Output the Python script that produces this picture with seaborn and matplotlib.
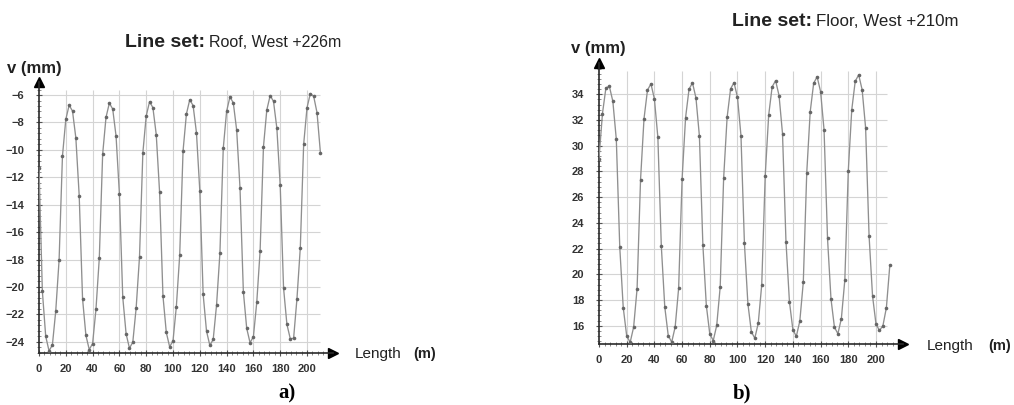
import numpy as np
import pandas as pd
import matplotlib
matplotlib.use("Agg")
import matplotlib.pyplot as plt
import seaborn as sns
from matplotlib.ticker import MultipleLocator

# ---------------- data ----------------
length_m = np.arange(0, 212.5, 2.5)

roof_v = [
    -11.3, -20.3, -23.6, -24.67, -24.23, -21.75, -18.02, -10.46, -7.78, -6.74, -7.17, -9.13,
    -13.34, -20.86, -23.53, -24.57, -24.13, -21.64, -17.90, -10.32, -7.63, -6.59, -7.02, -8.99,
    -13.21, -20.75, -23.42, -24.47, -24.03, -21.54, -17.80, -10.22, -7.53, -6.49, -6.92, -8.89,
    -13.11, -20.65, -23.32, -24.37, -23.93, -21.43, -17.68, -10.08, -7.39, -6.34, -6.77, -8.75,
    -12.98, -20.54, -23.22, -24.27, -23.83, -21.32, -17.55, -9.90, -7.19, -6.14, -6.57, -8.55,
    -12.78, -20.34, -23.02, -24.07, -23.63, -21.13, -17.38, -9.78, -7.09, -6.04, -6.46, -8.42,
    -12.60, -20.08, -22.73, -23.77, -23.75, -20.86, -17.14, -9.60, -6.93, -5.89, -6.10, -7.30,
    -10.20,
]

floor_v = [
    29.0, 32.5, 34.5, 34.61, 33.45, 30.49, 22.09, 17.41, 15.21, 14.71, 15.89, 18.89,
    27.37, 32.10, 34.32, 34.81, 33.64, 30.65, 22.18, 17.45, 15.23, 14.73, 15.91, 18.92,
    27.42, 32.17, 34.39, 34.89, 33.72, 30.74, 22.28, 17.57, 15.35, 14.85, 16.03, 19.02,
    27.48, 32.20, 34.42, 34.91, 33.75, 30.79, 22.40, 17.72, 15.53, 15.03, 16.21, 19.19,
    27.64, 32.36, 34.57, 35.06, 33.90, 30.94, 22.55, 17.87, 15.68, 15.18, 16.37, 19.37,
    27.89, 32.64, 34.86, 35.36, 34.20, 31.22, 22.79, 18.09, 15.88, 15.38, 16.56, 19.56,
    28.06, 32.79, 35.01, 35.51, 34.35, 31.39, 23.00, 18.32, 16.13, 15.63, 16.00, 17.40,
    20.73,
]

x_ticks = [0, 20, 40, 60, 80, 100, 120, 140, 160, 180, 200]
roof_yticks = [-24, -22, -20, -18, -16, -14, -12, -10, -8, -6]
floor_yticks = [16, 18, 20, 22, 24, 26, 28, 30, 32, 34]

roof_title = ("Line set:", "Roof, West +226m")
floor_title = ("Line set:", "Floor, West +210m")

# ---------------- style ----------------
sns.set_theme(style="white")
plt.rcParams["font.family"] = ["Liberation Sans", "DejaVu Sans"]

W, H = 1014, 405
fig = plt.figure(figsize=(W / 100, H / 100), dpi=100)

AX_COL = "#2a2a2a"
GRID_COL = "#d4d4d4"
LINE_COL = "#8f8f8f"
MARK_COL = "#666666"
TXT_COL = "#333333"


def px_box(x0, y_top, x1, y_bot):
    return [x0 / W, 1 - y_bot / H, (x1 - x0) / W, (y_bot - y_top) / H]


def draw_panel(ax, values, yticks, xlim, ylim, grid_xmax, grid_ytop):
    df = pd.DataFrame({"x": length_m, "v": values})
    ax.set_xlim(*xlim)
    ax.set_ylim(*ylim)
    ax.hlines(yticks, 0, grid_xmax, colors=GRID_COL, linewidth=0.8, zorder=0)
    ax.vlines(x_ticks[1:], ylim[0], grid_ytop, colors=GRID_COL, linewidth=0.8, zorder=0)
    sns.lineplot(data=df, x="x", y="v", ax=ax, color=LINE_COL, linewidth=0.95,
                 marker="o", markersize=2.6, markeredgewidth=0,
                 markerfacecolor=MARK_COL, zorder=3)
    ax.set_xlabel("")
    ax.set_ylabel("")
    ax.set_xticks(x_ticks)
    ax.set_yticks(yticks)
    ax.xaxis.set_minor_locator(MultipleLocator(4))
    ax.yaxis.set_minor_locator(MultipleLocator(0.4))
    for s in ["top", "right"]:
        ax.spines[s].set_visible(False)
    for s in ["left", "bottom"]:
        ax.spines[s].set_color(AX_COL)
        ax.spines[s].set_linewidth(1.2)
    ax.tick_params(axis="both", which="major", direction="inout", length=5,
                   width=0.8, color="#555555", labelsize=8, labelcolor=TXT_COL,
                   left=True, bottom=True)
    ax.tick_params(axis="both", which="minor", direction="inout", length=3,
                   width=0.6, color="#777777", left=True, bottom=True)
    ax.tick_params(axis="y", which="major", pad=8)
    ax.tick_params(axis="x", which="major", pad=5.5)
    for lab in ax.get_xticklabels() + ax.get_yticklabels():
        lab.set_fontweight("bold")
    ax.patch.set_alpha(0)
    ax.plot(1, 0, ">", color="black", markersize=7, transform=ax.transAxes, clip_on=False)
    ax.plot(0, 1, "^", color="black", markersize=7, transform=ax.transAxes, clip_on=False)


# Panel a
axA = fig.add_axes(px_box(39, 82, 333, 353))
draw_panel(axA, roof_v, roof_yticks, (0, 219.4), (-24.82, -5.05), 210, -5.6)

# Panel b
axB = fig.add_axes(px_box(599, 63, 903, 344))
draw_panel(axB, floor_v, floor_yticks, (0, 219.5), (14.58, 36.43), 208, 35.8)


def ftext(x, y, s, **kw):
    fig.text(x / W, 1 - y / H, s, **kw)


# Titles
ftext(205, 47, roof_title[0], ha="right", va="baseline", fontsize=14, fontweight="bold", color="#222222")
ftext(209, 47, roof_title[1], ha="left", va="baseline", fontsize=11.5, color="#222222")
ftext(812, 26, floor_title[0], ha="right", va="baseline", fontsize=14, fontweight="bold", color="#222222")
ftext(816, 26, floor_title[1], ha="left", va="baseline", fontsize=12.2, color="#222222")

# y axis labels
ftext(34, 68, "v (mm)", ha="center", va="center", fontsize=12, fontweight="bold", color="#222222")
ftext(598, 48, "v (mm)", ha="center", va="center", fontsize=12, fontweight="bold", color="#222222")

# x axis labels
ftext(355, 354, "Length", ha="left", va="center", fontsize=11, color="#222222")
ftext(413, 354, "(m)", ha="left", va="center", fontsize=10.5, fontweight="bold", color="#222222")
ftext(927, 346, "Length", ha="left", va="center", fontsize=11, color="#222222")
ftext(988, 346, "(m)", ha="left", va="center", fontsize=10.5, fontweight="bold", color="#222222")

# panel letters
ftext(287, 393, "a)", ha="center", va="center", fontsize=15, fontweight="bold",
      family=["Liberation Serif", "DejaVu Serif"], color="black")
ftext(742, 393, "b)", ha="center", va="center", fontsize=15, fontweight="bold",
      family=["Liberation Serif", "DejaVu Serif"], color="black")

fig.savefig("out.png", dpi=100, facecolor="white")
